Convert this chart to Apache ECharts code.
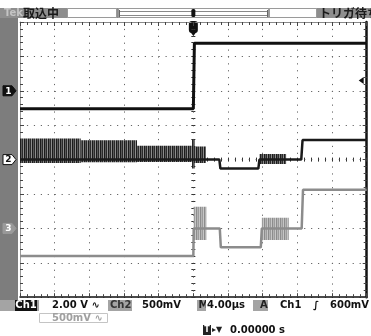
<!DOCTYPE html>
<html>
<head>
<meta charset="utf-8">
<script src="https://cdn.jsdelivr.net/npm/echarts@6/dist/echarts.min.js"></script>
<style>
  html, body { margin: 0; padding: 0; background: #fff; }
  #scope { width: 371px; height: 336px; }
</style>
</head>
<body>
<div id="scope"></div>
<script>
// ---- Acquisition data (time in µs, trigger at 0) ----

// Channel 1, 2.00 V/div
const ch1Time  = [-20, 0, 0.12, 20];
const ch1Volts = [-1.04, -1.04, 2.76, 2.76];

// Channel 2, 500 mV/div
const ch2Time  = [-20, 3.0, 3.12, 7.5, 7.62, 12.45, 12.6, 20];
const ch2Volts = [0, 0, -0.13, -0.13, 0, 0, 0.285, 0.285];
// Ch2 ringing envelopes: start µs, end µs, min V, max V
const ch2BurstStart = [-20, -13, -6.5, -0.15, 0, 7.62];
const ch2BurstEnd   = [-13, -6.5, 0, 0.15, 1.45, 10.7];
const ch2BurstMin   = [-0.05, -0.04, -0.035, -0.13, -0.05, -0.065];
const ch2BurstMax   = [0.305, 0.28, 0.2, 0.29, 0.19, 0.08];

// Channel 3, 500 mV/div
const ch3Time  = [-20, 0, 0.04, 3.05, 3.17, 7.78, 7.9, 12.5, 12.65, 20];
const ch3Volts = [-0.40, -0.40, 0, 0, -0.275, -0.275, 0, 0, 0.56, 0.56];
// Ch3 ringing envelopes
const ch3BurstStart = [0.04, 7.9];
const ch3BurstEnd   = [1.5, 11.0];
const ch3BurstMin   = [-0.17, -0.17];
const ch3BurstMax   = [0.315, 0.155];

// Vertical settings: volts per division and ground position in divisions
const voltsPerDiv = { 1: 2.0, 2: 0.5, 3: 0.5 };
const groundDiv   = { 1: 2, 2: 0, 3: -2 };
const ch1TriggerLevel = 0.6;

// Horizontal: 4.00 µs/div, 10 divisions; vertical: 8 divisions
const timeMin = -20, timeMax = 20, timePerDiv = 4;
const divMin = -4, divMax = 4;

function toDiv(ch, v) { return v / voltsPerDiv[ch] + groundDiv[ch]; }

function tracePoints(ch, times, volts) {
  return times.map((t, i) => [t, toDiv(ch, volts[i])]);
}
function burstItems(ch, s, e, lo, hi) {
  return s.map((t, i) => [t, e[i], toDiv(ch, lo[i]), toDiv(ch, hi[i])]);
}

// vertical-stripe texture for the dense ringing bands
function stripes(cols) {
  const c = document.createElement('canvas');
  c.width = cols.length; c.height = 4;
  const g = c.getContext('2d');
  cols.forEach((col, i) => { g.fillStyle = col; g.fillRect(i, 0, 1, 4); });
  return { image: c, repeat: 'repeat' };
}
const ch2Texture = stripes(['#1c1c1c', '#5a5a5a', '#2a2a2a', '#8c8c8c']);
const ch3Texture = stripes(['#8c8c8c', '#b4b4b4', '#9c9c9c', '#c6c6c6']);

function bandSeries(data, texture) {
  return {
    type: 'custom',
    xAxisIndex: 0, yAxisIndex: 0,
    clip: true,
    silent: true,
    encode: { x: [0, 1], y: [2, 3] },
    data: data,
    renderItem: function (params, api) {
      const p0 = api.coord([api.value(0), api.value(3)]);
      const p1 = api.coord([api.value(1), api.value(2)]);
      return {
        type: 'rect',
        shape: { x: p0[0], y: p0[1], width: p1[0] - p0[0], height: p1[1] - p0[1] },
        style: { fill: texture }
      };
    }
  };
}
function lineSeries(data, color, width) {
  return {
    type: 'line',
    xAxisIndex: 0, yAxisIndex: 0,
    data: data,
    showSymbol: false,
    silent: true,
    lineStyle: { color: color, width: width },
    z: 3
  };
}

const gridRect = { left: 20, top: 22, width: 346.7, height: 275.2 };
const dotV = { color: '#666', width: 1, type: [1.2, 5.68] };
const dotH = { color: '#666', width: 1, type: [1.2, 5.73] };

function borderX(pos, lineColor, lineWidth, split) {
  return {
    type: 'value', gridIndex: 0, position: pos,
    min: timeMin, max: timeMax, interval: timePerDiv,
    axisLine: { show: true, onZero: false, lineStyle: { color: lineColor, width: lineWidth } },
    axisTick: { show: true, inside: true, length: 4, lineStyle: { color: '#444' } },
    minorTick: { show: true, splitNumber: 5, length: 3, lineStyle: { color: '#444' } },
    axisLabel: { show: false },
    splitLine: { show: split, lineStyle: dotV }
  };
}
function borderY(pos, lineColor, lineWidth, split) {
  return {
    type: 'value', gridIndex: 0, position: pos,
    min: divMin, max: divMax, interval: 1,
    axisLine: { show: true, onZero: false, lineStyle: { color: lineColor, width: lineWidth } },
    axisTick: { show: true, inside: true, length: 4, lineStyle: { color: '#444' } },
    minorTick: { show: true, splitNumber: 5, length: 3, lineStyle: { color: '#444' } },
    axisLabel: { show: false },
    splitLine: { show: split, lineStyle: dotH }
  };
}
// centre graticule axes with cross ticks (one grid per tick side)
function centreX(gi, inside) {
  return {
    type: 'value', gridIndex: gi, min: timeMin, max: timeMax, interval: timePerDiv,
    axisLine: { show: true, onZero: true, lineStyle: { color: 'rgba(0,0,0,0)' } },
    axisTick: { show: true, inside: inside, length: 2, lineStyle: { color: '#333' } },
    minorTick: { show: true, splitNumber: 5, length: 2, lineStyle: { color: '#333' } },
    axisLabel: { show: false }, splitLine: { show: false }
  };
}
function centreY(gi, inside) {
  return {
    type: 'value', gridIndex: gi, min: divMin, max: divMax, interval: 1,
    axisLine: { show: true, onZero: true, lineStyle: { color: 'rgba(0,0,0,0)' } },
    axisTick: { show: true, inside: inside, length: 2, lineStyle: { color: '#333' } },
    minorTick: { show: true, splitNumber: 5, length: 2, lineStyle: { color: '#333' } },
    axisLabel: { show: false }, splitLine: { show: false }
  };
}

const chart = echarts.init(document.getElementById('scope'), null, { renderer: 'canvas' });

chart.setOption({
  animation: false,
  backgroundColor: '#ffffff',
  grid: [
    Object.assign({}, gridRect),
    Object.assign({}, gridRect),
    Object.assign({}, gridRect)
  ],
  xAxis: [
    borderX('bottom', '#111', 1.5, true),
    borderX('top', '#8a8a8a', 1, false),
    centreX(1, true),
    centreX(2, false)
  ],
  yAxis: [
    borderY('left', '#9a9a9a', 1, true),
    borderY('right', '#111', 2.5, false),
    centreY(1, true),
    centreY(2, false)
  ],
  series: [
    bandSeries(burstItems(2, ch2BurstStart, ch2BurstEnd, ch2BurstMin, ch2BurstMax), ch2Texture),
    bandSeries(burstItems(3, ch3BurstStart, ch3BurstEnd, ch3BurstMin, ch3BurstMax), ch3Texture),
    lineSeries(tracePoints(3, ch3Time, ch3Volts), '#8c8c8c', 2.5),
    lineSeries(tracePoints(2, ch2Time, ch2Volts), '#1a1a1a', 2.5),
    lineSeries(tracePoints(1, ch1Time, ch1Volts), '#111111', 3)
  ]
});

// ---- Screen furniture: status bar, channel markers, readouts ----
const FONT = '"DejaVu Sans", "Noto Sans CJK JP", sans-serif';
const JP = '"Noto Sans CJK JP", "DejaVu Sans", sans-serif';

function rect(x, y, w, h, fill, stroke, r) {
  return { type: 'rect', shape: { x: x, y: y, width: w, height: h, r: r || 0 },
           style: { fill: fill, stroke: stroke || null, lineWidth: stroke ? 1 : 0 }, silent: true };
}
function text(str, x, y, color, size, family, align) {
  return { type: 'text', x: x, y: y, silent: true,
           style: { text: str, fill: color, fontSize: size || 10, fontWeight: 'bold',
                    fontFamily: family || FONT, align: align || 'left', verticalAlign: 'middle' } };
}
function marker(y, label, fill, stroke, textColor) {
  return [
    { type: 'polygon', silent: true,
      shape: { points: [[3, y - 5], [12, y - 5], [16, y], [12, y + 5], [3, y + 5]] },
      style: { fill: fill, stroke: stroke, lineWidth: 1 } },
    text(label, 8.5, y + 0.5, textColor, 9, FONT, 'center')
  ];
}

const px = (t, d) => chart.convertToPixel({ gridIndex: 0 }, [t, d]);
const y1 = px(0, groundDiv[1])[1];
const y2 = px(0, groundDiv[2])[1];
const y3 = px(0, groundDiv[3])[1];
const yTrig = px(0, toDiv(1, ch1TriggerLevel))[1];
const xTrig = px(0, 0)[0];
const xRight = px(timeMax, 0)[0];

const elements = [
  // left channel strip and top status bar
  rect(0, 18, 18, 282, '#7d7d7d'),
  rect(0, 8, 371, 10, '#8e8e8e'),
  text('Tek', 4, 13, '#c4c4c4', 10, FONT),
  text('取込中', 23, 13, '#1a1a1a', 12, JP),
  rect(67.5, 8.5, 49, 9, '#ffffff', '#9a9a9a'),
  rect(118.5, 8.5, 150, 9, '#ffffff', '#9a9a9a'),
  { type: 'line', silent: true, shape: { x1: 119, y1: 11.5, x2: 268, y2: 11.5 }, style: { stroke: '#888', lineWidth: 1 } },
  { type: 'line', silent: true, shape: { x1: 119, y1: 15.5, x2: 268, y2: 15.5 }, style: { stroke: '#888', lineWidth: 1 } },
  { type: 'line', silent: true, shape: { x1: 119.5, y1: 10, x2: 119.5, y2: 17 }, style: { stroke: '#666', lineWidth: 1 } },
  { type: 'line', silent: true, shape: { x1: 267.5, y1: 10, x2: 267.5, y2: 17 }, style: { stroke: '#666', lineWidth: 1 } },
  rect(xTrig - 2, 9, 4, 8, '#111', null, 1.5),
  rect(269.5, 8.5, 47, 9, '#ffffff', '#9a9a9a'),
  text('トリガ待ち', 319, 13, '#1a1a1a', 12, JP),
  // trigger position marker
  rect(xTrig - 4.5, 21, 9, 12, '#111', null, 3),
  { type: 'polygon', silent: true, shape: { points: [[xTrig - 3, 32], [xTrig + 3, 32], [xTrig, 36]] }, style: { fill: '#111' } },
  // trigger level marker on right edge
  { type: 'polygon', silent: true,
    shape: { points: [[xRight - 8, yTrig], [xRight - 3, yTrig - 3.5], [xRight - 3, yTrig + 3.5]] },
    style: { fill: '#111' } }
]
  .concat(marker(y1, '1', '#111', '#111', '#fff'))
  .concat(marker(y2, '2', '#fff', '#111', '#111'))
  .concat(marker(y3, '3', '#9a9a9a', '#9a9a9a', '#fff'))
  .concat([
    // readout row 1
    rect(0, 300, 371, 11, '#a4a4a4'),
    rect(15, 300, 22, 11, '#111'),
    text('Ch1', 26, 305.8, '#fff', 10, FONT, 'center'),
    rect(39, 300, 69, 11, '#fff'),
    text('2.00 V ∿', 52, 305.8, '#111', 10, FONT),
    text('Ch2', 110, 305.8, '#333', 10, FONT),
    rect(132, 300, 65, 11, '#fff'),
    text('500mV', 142, 305.8, '#111', 10, FONT),
    text('M', 198.5, 305.8, '#222', 10, FONT),
    rect(206, 300, 47, 11, '#fff'),
    text('4.00µs', 207, 305.8, '#111', 10, FONT),
    text('A', 260, 305.8, '#222', 10, FONT),
    rect(268, 300, 103, 11, '#fff'),
    text('Ch1', 280, 305.8, '#111', 10, FONT),
    text('∫', 313, 305.8, '#111', 10, FONT),
    text('600mV', 330, 305.8, '#111', 10, FONT),
    // readout row 2
    rect(39.5, 313.5, 68, 9, '#fff', '#c4c4c4'),
    text('500mV ∿', 52, 318.3, '#a0a0a0', 10, FONT),
    // readout row 3
    rect(203, 325, 8, 10, '#222'),
    text('T', 207, 330.3, '#fff', 8, FONT, 'center'),
    text('▸▼', 212, 330.3, '#222', 8, FONT),
    rect(228, 324.5, 82, 11, '#fff'),
    text('0.00000 s', 230, 330.3, '#111', 10, FONT)
  ]);

chart.setOption({ graphic: { elements: elements } });
</script>
</body>
</html>
